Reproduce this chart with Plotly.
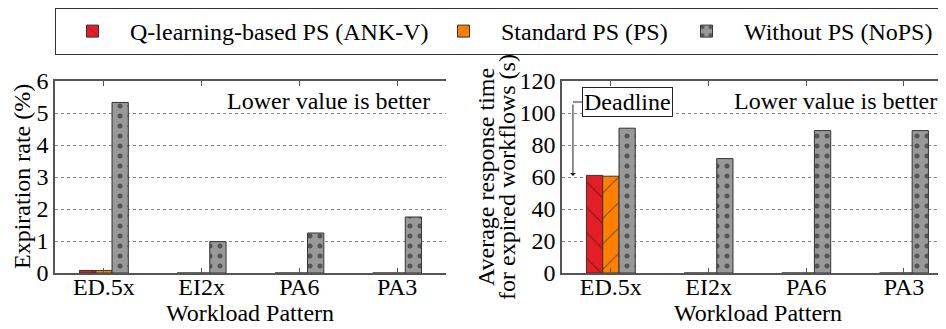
import plotly.graph_objects as go

categories = ["ED.5x", "EI2x", "PA6", "PA3"]
series_names = ["Q-learning-based PS (ANK-V)", "Standard PS (PS)", "Without PS (NoPS)"]
expiration_ankv = [0.08, 0, 0, 0]
expiration_ps = [0.08, 0, 0, 0]
expiration_nops = [5.33, 0.98, 1.25, 1.75]
resp_ankv = [61.0, 0, 0, 0]
resp_ps = [60.5, 0, 0, 0]
resp_nops = [90.5, 71.5, 89.0, 89.0]
deadline = 60
left_yticks = [0, 1, 2, 3, 4, 5, 6]
right_yticks = [0, 20, 40, 60, 80, 100, 120]

OFF = 8  # default page body margin
W, H = 946 - OFF, 329 - OFF
FONT = "Liberation Serif"
FS = 24
colors = ["#e41e26", "#ff8000", "#999999"]
patterns = ["\\", "/", "."]
legend_widths = [291, 163, 192]

def px(x):
    return (x - OFF) / W

def py(y):
    return 1 - (y - OFF) / H

fig = go.Figure()
left_vals = [expiration_ankv, expiration_ps, expiration_nops]
right_vals = [resp_ankv, resp_ps, resp_nops]
for i in range(3):
    pat = dict(shape=patterns[i], fgcolor="#111111", size=18 if i < 2 else 10,
               solidity=0.06 if i < 2 else 0.2, fillmode="overlay")
    fig.add_trace(go.Bar(x=categories, y=left_vals[i], name=series_names[i],
                         marker=dict(color=colors[i], line=dict(color="#333333", width=1), pattern=pat),
                         xaxis="x", yaxis="y", legendgroup=str(i), legendwidth=legend_widths[i]))
    fig.add_trace(go.Bar(x=categories, y=right_vals[i], name=series_names[i], showlegend=False,
                         marker=dict(color=colors[i], line=dict(color="#333333", width=1), pattern=pat),
                         xaxis="x2", yaxis="y2", legendgroup=str(i)))

# deadline line
fig.add_trace(go.Scatter(x=[-0.5, 3.5], y=[deadline, deadline], mode="lines",
                         line=dict(color="#4d4dff", width=1.5), showlegend=False,
                         xaxis="x2", yaxis="y2", cliponaxis=True))

ydom = [py(273), py(81)]
axis_common = dict(showline=True, linecolor="#555555", linewidth=1.5, automargin=False,
                   tickfont=dict(family=FONT, size=FS, color="black"))
fig.update_layout(
    width=W, height=H,
    margin=dict(l=0, r=0, t=0, b=0, autoexpand=False),
    paper_bgcolor="white", plot_bgcolor="white",
    barmode="group", bargap=0.5, bargroupgap=0,
    font=dict(family=FONT, size=FS, color="black"),
    xaxis=dict(domain=[px(55), px(446)], range=[-0.5, 3.5], mirror="ticks", ticks="inside",
               ticklen=5, tickcolor="#555555", anchor="y", ticklabelstandoff=-9, **axis_common),
    yaxis=dict(domain=ydom, range=[0, 6], tickvals=left_yticks, showgrid=True,
               gridcolor="#888888", griddash="dot", gridwidth=1, ticks="", anchor="x",
               zeroline=False, **axis_common),
    xaxis2=dict(domain=[px(562), 1.0], range=[-0.5, 3.43], mirror="ticks", ticks="inside",
                ticklen=5, tickcolor="#555555", anchor="y2", ticklabelstandoff=-9, **axis_common),
    yaxis2=dict(domain=ydom, range=[0, 120], tickvals=right_yticks, showgrid=True,
                gridcolor="#888888", griddash="dot", gridwidth=1, ticks="", anchor="x2",
                zeroline=False, **axis_common),
    legend=dict(orientation="h", x=px(55), y=1.0, xanchor="left", yanchor="top",
                bgcolor="white", bordercolor="#333333", borderwidth=1, itemwidth=65,
                font=dict(family=FONT, size=FS, color="black")),
    showlegend=True,
)

def note(text, x, y, angle=0, **kw):
    return dict(text=text, x=px(x), y=py(y), xref="paper", yref="paper", xanchor="center",
                yanchor="middle", textangle=angle, showarrow=False,
                font=dict(family=FONT, size=FS, color="black"), **kw)

annotations = [
    note("Expiration rate (%)", 22, 177, -90),
    note("Average response time", 486, 177, -90),
    note("for expired workflows (s)", 507, 177, -90),
    note("Workload Pattern", 250, 313),
    note("Workload Pattern", 758, 313),
    note("Lower value is better", 328, 101),
    note("Lower value is better", 835, 101),
    note("Deadline", 627, 102, bordercolor="#222222", borderwidth=1, borderpad=1, bgcolor="white"),
    dict(text="", x=-0.388, y=deadline, xref="x2", yref="y2", showarrow=True,
         axref="pixel", ayref="pixel", ax=0, ay=-74, arrowhead=1, arrowsize=1,
         arrowwidth=1, arrowcolor="#222222", standoff=1),
]
fig.update_layout(annotations=annotations)
fig.add_shape(type="line", xref="paper", yref="paper", x0=px(573), x1=px(582),
              y0=py(102), y1=py(102), line=dict(color="#222222", width=1))

fig.write_html("out.html")
